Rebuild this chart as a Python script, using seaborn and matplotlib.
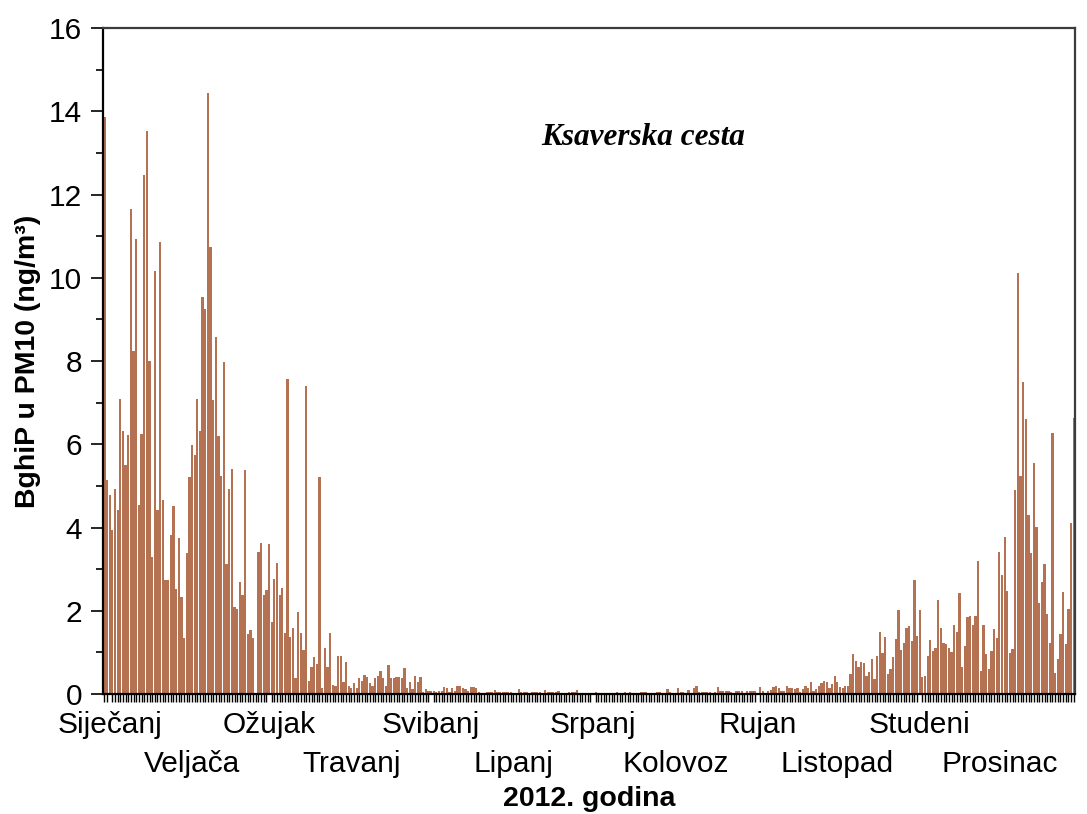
import numpy as np
import pandas as pd
import seaborn as sns
import matplotlib.pyplot as plt
from matplotlib.ticker import MultipleLocator

# ---------------- data (daily BghiP in PM10, ng/m3, 2012) ----------------
jan = [13.85, 5.15, 4.77, 3.94, 4.93, 4.43, 7.09, 6.33, 5.51, 6.22, 11.65, 8.23,
       10.92, 4.55, 6.25, 12.46, 13.52, 8.0, 3.28, 10.17, 4.41, 10.86, 4.65, 2.75,
       2.75, 3.82, 4.51, 2.52, 3.74, 2.33, 1.35]
feb = [3.39, 5.21, 5.98, 5.75, 7.09, 6.31, 9.54, 9.25, 14.45, 10.75, 7.07, 8.58,
       6.19, 5.24, 7.98, 3.13, 4.93, 5.41, 2.08, 2.04, 2.68, 2.39, 5.38, 1.44,
       1.54, 1.35, 0.0, 3.41, 3.63]
mar = [2.39, 2.51, 3.6, 1.74, 2.76, 3.14, 2.37, 2.54, 1.47, 7.56, 1.38, 1.58,
       0.38, 1.96, 1.47, 1.06, 7.41, 0.31, 0.66, 0.89, 0.72, 5.22, 0.14, 1.1,
       0.66, 1.47, 0.22, 0.19, 0.91, 0.91, 0.29]
apr = [0.78, 0.19, 0.15, 0.26, 0.14, 0.38, 0.31, 0.46, 0.4, 0.26, 0.19, 0.38,
       0.43, 0.55, 0.38, 0.19, 0.7, 0.38, 0.38, 0.4, 0.4, 0.38, 0.63, 0.14,
       0.29, 0.11, 0.43, 0.29, 0.4, 0.06]
may = [0.11, 0.08, 0.08, 0.08, 0.05, 0.08, 0.08, 0.18, 0.14, 0.05, 0.14, 0.08,
       0.19, 0.19, 0.14, 0.11, 0.08, 0.16, 0.16, 0.14, 0.06, 0.03, 0.02, 0.06,
       0.06, 0.06, 0.09, 0.06, 0.06, 0.04, 0.04]
jun = [0.05, 0.05, 0.03, 0.03, 0.11, 0.04, 0.04, 0.04, 0.02, 0.06, 0.06, 0.06,
       0.06, 0.03, 0.09, 0.05, 0.06, 0.05, 0.05, 0.08, 0.02, 0.02, 0.03, 0.06,
       0.06, 0.06, 0.09, 0.03, 0.03, 0.03]
jul = [0.03, 0.03, 0.02, 0.06, 0.02, 0.03, 0.03, 0.03, 0.03, 0.03, 0.02, 0.06,
       0.02, 0.02, 0.04, 0.02, 0.06, 0.03, 0.02, 0.02, 0.06, 0.06, 0.06, 0.02,
       0.02, 0.02, 0.05, 0.05, 0.02, 0.02, 0.11]
aug = [0.06, 0.02, 0.03, 0.14, 0.06, 0.04, 0.02, 0.1, 0.03, 0.15, 0.2, 0.05,
       0.06, 0.06, 0.06, 0.06, 0.03, 0.06, 0.16, 0.08, 0.08, 0.08, 0.08, 0.06,
       0.03, 0.08, 0.08, 0.08, 0.03, 0.08, 0.08]
sep = [0.08, 0.08, 0.03, 0.16, 0.08, 0.03, 0.08, 0.1, 0.16, 0.2, 0.14, 0.07,
       0.07, 0.2, 0.14, 0.14, 0.11, 0.14, 0.04, 0.11, 0.19, 0.14, 0.28, 0.07,
       0.11, 0.19, 0.27, 0.31, 0.28, 0.14]
oct_ = [0.23, 0.43, 0.28, 0.17, 0.14, 0.19, 0.19, 0.48, 0.95, 0.79, 0.66, 0.78,
        0.74, 0.43, 0.52, 0.83, 0.37, 0.91, 1.5, 0.98, 1.38, 0.48, 0.6, 0.9,
        1.32, 2.02, 1.06, 1.23, 1.59, 1.63, 1.27]
nov = [2.74, 1.39, 2.02, 0.42, 0.43, 0.92, 1.3, 1.04, 1.1, 2.25, 1.59, 1.23,
       1.2, 1.1, 1.0, 1.67, 1.5, 2.42, 0.66, 1.15, 1.84, 1.87, 1.67, 1.87,
       3.2, 0.56, 1.67, 0.95, 0.6, 1.03]
dec = [1.56, 1.35, 3.4, 2.86, 3.78, 2.48, 0.98, 1.07, 4.9, 10.12, 5.24, 7.5,
       6.6, 4.3, 3.38, 5.56, 4.02, 2.19, 2.7, 3.12, 1.92, 1.23, 6.26, 0.51,
       0.83, 1.44, 2.44, 1.2, 2.04, 4.12, 6.64]

month_names = ["Siječanj", "Veljača", "Ožujak", "Travanj", "Svibanj", "Lipanj",
               "Srpanj", "Kolovoz", "Rujan", "Listopad", "Studeni", "Prosinac"]
months = [jan, feb, mar, apr, may, jun, jul, aug, sep, oct_, nov, dec]

title_text = "Ksaverska cesta"
y_label = "BghiP u PM10 (ng/m³)"
x_label = "2012. godina"

# ---------------- build ----------------
values = np.concatenate([np.array(m, dtype=float) for m in months])
days = np.arange(len(values))
lengths = [len(m) for m in months]
month_starts = np.concatenate([[0], np.cumsum(lengths)[:-1]])
label_pos = month_starts + 2  # labels sit just right of each month start

df = pd.DataFrame({"day": days, "value": values})

sns.set_style("ticks")
plt.rcParams["font.family"] = ["Liberation Sans", "DejaVu Sans"]
plt.rcParams["text.color"] = "black"
plt.rcParams["axes.labelcolor"] = "black"
plt.rcParams["xtick.color"] = "black"
plt.rcParams["ytick.color"] = "black"

bar_color = "#B47252"
spine_color = "#3c3c3c"
tick_fs = 21.5

fig, ax = plt.subplots(figsize=(10.87, 8.14), dpi=100)
fig.subplots_adjust(left=0.0948, right=0.989, bottom=0.1474, top=0.9656)

sns.barplot(data=df, x="day", y="value", color=bar_color, saturation=1,
            width=0.86, errorbar=None, edgecolor="none", linewidth=0, ax=ax)

ax.set_xlim(-0.5, len(values) - 0.5)
ax.set_ylim(0, 16)

# y axis
ax.yaxis.set_major_locator(MultipleLocator(2))
ax.yaxis.set_minor_locator(MultipleLocator(1))
ax.tick_params(axis="y", which="major", length=9, width=1.2, pad=6,
               labelsize=tick_fs, colors="black")
ax.tick_params(axis="y", which="minor", length=5, width=1.2)
ax.set_ylabel(y_label, fontsize=20.5, fontweight="bold", labelpad=6)

# x axis: daily minor ticks, month labels in two rows
ax.set_xticks(days, minor=True)
ax.set_xticks(label_pos[0::2])
ax.set_xticklabels(month_names[0::2])
ax.tick_params(axis="x", which="major", length=0, pad=12, labelsize=tick_fs)
ax.tick_params(axis="x", which="minor", length=6, width=1.0, direction="out")
ax.set_xlabel("")

ax2 = ax.twiny()
ax2.set_xlim(ax.get_xlim())
ax2.xaxis.set_ticks_position("bottom")
ax2.xaxis.set_label_position("bottom")
ax2.set_xticks(label_pos[1::2])
ax2.set_xticklabels(month_names[1::2])
ax2.tick_params(axis="x", length=0, pad=40, labelsize=tick_fs)
ax2.set_xlabel(x_label, fontsize=20.5, fontweight="bold", labelpad=6)
for s in ax2.spines.values():
    s.set_visible(False)

for s in ax.spines.values():
    s.set_visible(True)
    s.set_color(spine_color)
    s.set_linewidth(1.6)
ax.spines["left"].set_color("black")
ax.spines["bottom"].set_color("black")

ax.text(0.556, 0.836, title_text, transform=ax.transAxes, ha="center",
        va="center", fontsize=22.5, fontweight="bold", fontstyle="italic",
        family=["Liberation Serif", "DejaVu Serif"])

fig.savefig("out.png", dpi=100)
